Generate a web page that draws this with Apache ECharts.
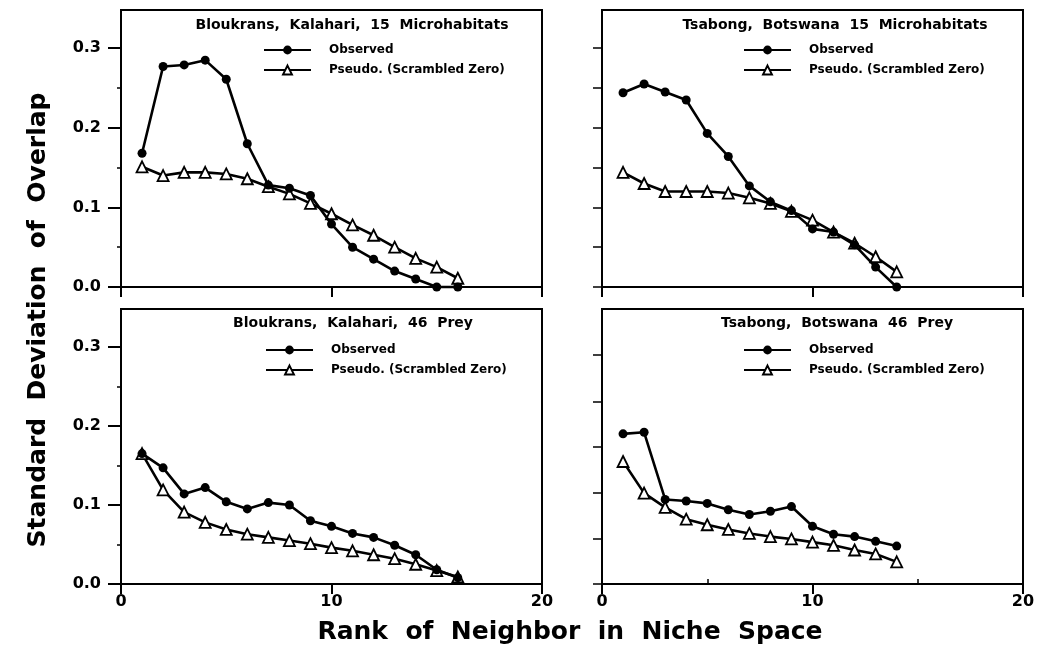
<!DOCTYPE html>
<html><head><meta charset="utf-8">
<script src="https://cdn.jsdelivr.net/npm/echarts@6/dist/echarts.min.js"></script>
<style>html,body{margin:0;padding:0;background:#fff}#c{width:1039px;height:663px}</style>
</head><body><div id="c"></div>
<script>
// ---------- data ----------
const ranks16 = [1,2,3,4,5,6,7,8,9,10,11,12,13,14,15,16];
const ranks14 = [1,2,3,4,5,6,7,8,9,10,11,12,13,14];

const tlObserved = [0.168,0.277,0.279,0.285,0.261,0.180,0.128,0.124,0.115,0.079,0.050,0.035,0.020,0.010,0.000,0.000];
const tlPseudo   = [0.151,0.140,0.144,0.144,0.142,0.136,0.126,0.117,0.105,0.092,0.078,0.065,0.050,0.036,0.025,0.011];

const trObserved = [0.244,0.255,0.245,0.235,0.193,0.164,0.127,0.107,0.096,0.073,0.069,0.053,0.025,0.000];
const trPseudo   = [0.144,0.130,0.120,0.120,0.120,0.118,0.112,0.105,0.095,0.084,0.069,0.055,0.038,0.019];

const blObserved = [0.165,0.147,0.114,0.122,0.104,0.095,0.103,0.100,0.080,0.073,0.064,0.059,0.049,0.037,0.018,0.008];
const blPseudo   = [0.165,0.119,0.091,0.078,0.069,0.063,0.059,0.055,0.051,0.046,0.042,0.037,0.032,0.025,0.017,0.009];

const brObserved = [0.190,0.192,0.107,0.105,0.102,0.094,0.088,0.092,0.098,0.073,0.063,0.060,0.054,0.048];
const brPseudo   = [0.155,0.115,0.097,0.082,0.075,0.069,0.064,0.060,0.057,0.053,0.049,0.043,0.038,0.028];

const panelTitles = [
  'Bloukrans,  Kalahari,  15  Microhabitats',
  'Tsabong,  Botswana  15  Microhabitats',
  'Bloukrans,  Kalahari,  46  Prey',
  'Tsabong,  Botswana  46  Prey'
];
const seriesNames = ['Observed', 'Pseudo. (Scrambled Zero)'];
const yTitle = 'Standard  Deviation  of  Overlap';
const xTitle = 'Rank  of  Neighbor  in  Niche  Space';

const yMajorTicks = [0, 0.1, 0.2, 0.3];
const yMinorTicks = [0.05, 0.15, 0.25];
const trYTicks = [0, 0.05, 0.1, 0.15, 0.2, 0.25, 0.3];
const brYTicks = [0, 0.057, 0.116, 0.174, 0.231, 0.29];
const xMajorTicks = [0, 10, 20];
const brXMinorTicks = [5, 15];

// ---------- layout ----------
const FONT = '"DejaVu Sans", sans-serif';
const Y_MAX = 0.348;
const grids = [
  {left: 121, top: 10,  width: 421, height: 277},
  {left: 602, top: 10,  width: 421, height: 277},
  {left: 121, top: 309, width: 421, height: 275},
  {left: 602, top: 309, width: 421, height: 275}
];
const panels = [
  {ranks: ranks16, obs: tlObserved, pse: tlPseudo, yLabels: true,  xLabels: false, yTicks: null},
  {ranks: ranks14, obs: trObserved, pse: trPseudo, yLabels: false, xLabels: false, yTicks: trYTicks},
  {ranks: ranks16, obs: blObserved, pse: blPseudo, yLabels: true,  xLabels: true,  yTicks: null},
  {ranks: ranks14, obs: brObserved, pse: brPseudo, yLabels: false, xLabels: true,  yTicks: brYTicks}
];
const titlePos = [[352, 25], [835, 25], [353, 323], [837, 323]];
const legendPos = [[263, 44], [743, 44], [265, 344], [743, 344]];

const xAxes = [], yAxes = [], series = [], legends = [], graphics = [];

panels.forEach((p, i) => {
  const xi = xAxes.length;
  xAxes.push({
    type: 'value', gridIndex: i, min: 0, max: 20, interval: 10, position: 'bottom',
    axisLine: {lineStyle: {color: '#000', width: 2}},
    axisTick: {length: 10, lineStyle: {color: '#000', width: 2}, customValues: xMajorTicks},
    axisLabel: {show: p.xLabels, customValues: xMajorTicks, margin: 10, color: '#000',
                fontSize: 16, fontWeight: 'bold', fontFamily: FONT},
    splitLine: {show: false}
  });
  if (i === 3) {
    xAxes.push({
      type: 'value', gridIndex: i, min: 0, max: 20, interval: 5, position: 'bottom',
      axisLine: {show: false},
      axisTick: {inside: true, length: 5, lineStyle: {color: '#000', width: 1.5}, customValues: brXMinorTicks},
      axisLabel: {show: false}, splitLine: {show: false}
    });
  }
  const yi = yAxes.length;
  if (p.yLabels) {
    yAxes.push({
      type: 'value', gridIndex: i, min: 0, max: Y_MAX, interval: 0.1, position: 'left',
      axisLine: {lineStyle: {color: '#000', width: 2}},
      axisTick: {length: 13, lineStyle: {color: '#000', width: 2}, customValues: yMajorTicks},
      axisLabel: {customValues: yMajorTicks, formatter: v => v.toFixed(1), margin: 20, color: '#000',
                  fontSize: 16, fontWeight: 'bold', fontFamily: FONT},
      splitLine: {show: false}
    });
    yAxes.push({
      type: 'value', gridIndex: i, min: 0, max: Y_MAX, interval: 0.05, position: 'left',
      axisLine: {show: false},
      axisTick: {length: 4, lineStyle: {color: '#000', width: 1.5}, customValues: yMinorTicks},
      axisLabel: {show: false}, splitLine: {show: false}
    });
  } else {
    yAxes.push({
      type: 'value', gridIndex: i, min: 0, max: Y_MAX, interval: 0.05, position: 'left',
      axisLine: {lineStyle: {color: '#000', width: 2}},
      axisTick: {length: 9, lineStyle: {color: '#000', width: 1.5}, customValues: p.yTicks},
      axisLabel: {show: false}, splitLine: {show: false}
    });
  }
  series.push({
    name: seriesNames[1], type: 'line', xAxisIndex: xi, yAxisIndex: yi,
    data: p.ranks.map((r, k) => [r, p.pse[k]]),
    symbol: 'triangle', symbolSize: 11, clip: false,
    itemStyle: {color: '#fff', borderColor: '#000', borderWidth: 1.8},
    lineStyle: {color: '#000', width: 2.6}, z: 3
  });
  series.push({
    name: seriesNames[0], type: 'line', xAxisIndex: xi, yAxisIndex: yi,
    data: p.ranks.map((r, k) => [r, p.obs[k]]),
    symbol: 'circle', symbolSize: 9, clip: false,
    itemStyle: {color: '#000'},
    lineStyle: {color: '#000', width: 2.6}, z: 4
  });
  legends.push({
    data: seriesNames, orient: 'vertical', left: legendPos[i][0], top: legendPos[i][1],
    padding: 0, itemWidth: 47, itemHeight: 11, itemGap: 8, selectedMode: false,
    textStyle: {color: '#000', fontSize: 12, fontWeight: 'bold', fontFamily: FONT, padding: [0, 0, 0, 13]}
  });
  graphics.push({
    type: 'text', x: titlePos[i][0], y: titlePos[i][1],
    style: {text: panelTitles[i], fill: '#000', font: 'bold 14px ' + FONT,
            align: 'center', verticalAlign: 'middle', textAlign: 'center', textVerticalAlign: 'middle'}
  });
});

graphics.push({
  type: 'text', x: 570, y: 632,
  style: {text: xTitle, fill: '#000', font: 'bold 25px ' + FONT,
          align: 'center', verticalAlign: 'middle', textAlign: 'center', textVerticalAlign: 'middle'}
});
graphics.push({
  type: 'text', x: 38, y: 320, rotation: Math.PI / 2,
  style: {text: yTitle, fill: '#000', font: 'bold 25px ' + FONT,
          align: 'center', verticalAlign: 'middle', textAlign: 'center', textVerticalAlign: 'middle'}
});

const chart = echarts.init(document.getElementById('c'), null, {renderer: 'canvas'});
chart.setOption({
  animation: false,
  backgroundColor: '#fff',
  grid: grids.map(g => Object.assign({show: true, borderColor: '#000', borderWidth: 2, backgroundColor: 'transparent'}, g)),
  xAxis: xAxes,
  yAxis: yAxes,
  legend: legends,
  series: series,
  graphic: graphics
});
</script>
</body></html>
